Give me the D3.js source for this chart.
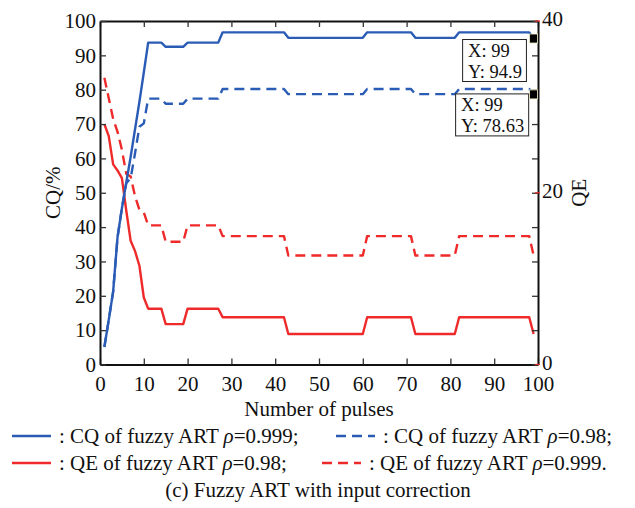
<!DOCTYPE html>
<html>
<head>
<meta charset="utf-8">
<script src="https://cdn.jsdelivr.net/npm/d3@7"></script>
<style>
  body { margin: 0; background: #fff; }
  svg text { font-family: "Liberation Serif", "Times New Roman", serif; fill: #111; }
</style>
</head>
<body>
<svg id="chart" width="635" height="508"></svg>
<script>
// pulses 1..99
var pulses = [1,2,3,4,5,6,7,8,9,10,11,12,13,14,15,16,17,18,19,20,
  21,22,23,24,25,26,27,28,29,30,31,32,33,34,35,36,37,38,39,40,
  41,42,43,44,45,46,47,48,49,50,51,52,53,54,55,56,57,58,59,60,
  61,62,63,64,65,66,67,68,69,70,71,72,73,74,75,76,77,78,79,80,
  81,82,83,84,85,86,87,88,89,90,91,92,93,94,95,96,97,98,99]

// CQ of fuzzy ART rho=0.999 (solid blue)
var cq999 = [5.1,13,21.2,37,45.5,53,60.5,68.5,76.5,85,
  93.7,93.7,93.7,93.7,92.5,92.5,92.5,92.5,92.5,93.7,
  93.7,93.7,93.7,93.7,93.7,93.7,93.7,96.7,96.7,96.7,
  96.7,96.7,96.7,96.7,96.7,96.7,96.7,96.7,96.7,96.7,
  96.7,96.7,95.1,95.1,95.1,95.1,95.1,95.1,95.1,95.1,
  95.1,95.1,95.1,95.1,95.1,95.1,95.1,95.1,95.1,95.1,
  96.7,96.7,96.7,96.7,96.7,96.7,96.7,96.7,96.7,96.7,
  96.7,95.1,95.1,95.1,95.1,95.1,95.1,95.1,95.1,95.1,
  95.1,96.7,96.7,96.7,96.7,96.7,96.7,96.7,96.7,96.7,
  96.7,96.7,96.7,96.7,96.7,96.7,96.7,96.7,94.9]

// CQ of fuzzy ART rho=0.98 (dashed blue)
var cq98 = [5.1,13,21.2,37,45.5,52.8,54.2,61.5,69.2,70.2,
  77.4,77.4,77.4,77.4,75.9,75.9,75.9,75.9,75.9,77.4,
  77.4,77.4,77.4,77.4,77.4,77.4,77.4,80.2,80.2,80.2,
  80.2,80.2,80.2,80.2,80.2,80.2,80.2,80.2,80.2,80.2,
  80.2,80.2,78.7,78.7,78.7,78.7,78.7,78.7,78.7,78.7,
  78.7,78.7,78.7,78.7,78.7,78.7,78.7,78.7,78.7,78.7,
  80.2,80.2,80.2,80.2,80.2,80.2,80.2,80.2,80.2,80.2,
  80.2,78.7,78.7,78.7,78.7,78.7,78.7,78.7,78.7,78.7,
  78.7,80.2,80.2,80.2,80.2,80.2,80.2,80.2,80.2,80.2,
  80.2,80.2,80.2,80.2,80.2,80.2,80.2,80.2,78.63]

// QE of fuzzy ART rho=0.98 (solid red)
var qe98 = [28.0,26.6,23.3,22.6,21.7,17.9,14.4,13.2,11.5,7.8,
  6.5,6.5,6.5,6.5,4.7,4.7,4.7,4.7,4.7,6.5,
  6.5,6.5,6.5,6.5,6.5,6.5,6.5,5.5,5.5,5.5,
  5.5,5.5,5.5,5.5,5.5,5.5,5.5,5.5,5.5,5.5,
  5.5,5.5,3.55,3.55,3.55,3.55,3.55,3.55,3.55,3.55,
  3.55,3.55,3.55,3.55,3.55,3.55,3.55,3.55,3.55,3.55,
  5.5,5.5,5.5,5.5,5.5,5.5,5.5,5.5,5.5,5.5,
  5.5,3.55,3.55,3.55,3.55,3.55,3.55,3.55,3.55,3.55,
  3.55,5.5,5.5,5.5,5.5,5.5,5.5,5.5,5.5,5.5,
  5.5,5.5,5.5,5.5,5.5,5.5,5.5,5.5,3.55]

// QE of fuzzy ART rho=0.999 (dashed red)
var qe999 = [33.4,31.0,28.6,27.1,25.0,22.2,21.9,19.6,18.0,17.7,
  16.2,16.2,16.2,16.2,14.3,14.3,14.3,14.3,14.3,16.2,
  16.2,16.2,16.2,16.2,16.2,16.2,16.2,14.95,14.95,14.95,
  14.95,14.95,14.95,14.95,14.95,14.95,14.95,14.95,14.95,14.95,
  14.95,14.95,12.7,12.7,12.7,12.7,12.7,12.7,12.7,12.7,
  12.7,12.7,12.7,12.7,12.7,12.7,12.7,12.7,12.7,12.7,
  14.95,14.95,14.95,14.95,14.95,14.95,14.95,14.95,14.95,14.95,
  14.95,12.7,12.7,12.7,12.7,12.7,12.7,12.7,12.7,12.7,
  12.7,14.95,14.95,14.95,14.95,14.95,14.95,14.95,14.95,14.95,
  14.95,14.95,14.95,14.95,14.95,14.95,14.95,14.95,12.7]

var xTicks = [0,10,20,30,40,50,60,70,80,90,100]
var cqTicks = [0,10,20,30,40,50,60,70,80,90,100]
var qeTicks = [0,4,8,12,16,20,24,28,32,36,40]
var qeLabels = [0,20,40]

// data tips
var tips = [
  {x: 99, y: 94.9, lines: ["X: 99", "Y: 94.9"], dx: -71, dy: 1},
  {x: 99, y: 78.63, lines: ["X: 99", "Y: 78.63"], dx: -78, dy: -0.5}
]

var legendRows = [
  {color: "#2a5cb5", dash: null, pre: ": CQ of fuzzy ART ", val: "=0.999;", x: 12, y: 443},
  {color: "#2a5cb5", dash: "10,6", pre: ": CQ of fuzzy ART ", val: "=0.98;", x: 336, y: 443},
  {color: "#ee2a2a", dash: null, pre: ": QE of fuzzy ART ", val: "=0.98;", x: 12, y: 470},
  {color: "#ee2a2a", dash: "10,6", pre: ": QE of fuzzy ART ", val: "=0.999.", x: 322, y: 470}
]

const margin = {top: 21, right: 97, bottom: 143.5, left: 100},
    width = 635 - margin.left - margin.right,
    height = 508 - margin.top - margin.bottom;

const svg = d3.select("#chart")
const g = svg.append("g").attr("transform", "translate(" + margin.left + "," + margin.top + ")")

const x = d3.scaleLinear().domain([0, 100]).range([0, width])
const yL = d3.scaleLinear().domain([0, 100]).range([height, 0])
const yR = d3.scaleLinear().domain([0, 40]).range([height, 0])

const blue = "#2a5cb5", red = "#ee2a2a"
const serif = "Liberation Serif, Times New Roman, serif"

function drawLine(vals, scale, color, dash) {
  var p = g.append("path")
    .datum(pulses.map(function (d, i) { return [d, vals[i]] }))
    .attr("fill", "none")
    .attr("stroke", color)
    .attr("stroke-width", 2.4)
    .attr("stroke-linejoin", "round")
    .attr("d", d3.line()
      .x(function (d) { return x(d[0]) })
      .y(function (d) { return scale(d[1]) }))
  if (dash) p.attr("stroke-dasharray", dash)
}

drawLine(qe999, yR, red, "10,6")
drawLine(qe98, yR, red, null)
drawLine(cq98, yL, blue, "10,6")
drawLine(cq999, yL, blue, null)

// axes
const fs = "21px"
const xAxis = g.append("g").attr("transform", "translate(0," + height + ")")
  .call(d3.axisBottom(x).tickValues(xTicks).tickSizeInner(-6).tickSizeOuter(0).tickPadding(12))
const xTop = g.append("g")
  .call(d3.axisTop(x).tickValues(xTicks).tickSizeInner(-6).tickSizeOuter(0).tickFormat(""))
const yAxisL = g.append("g")
  .call(d3.axisLeft(yL).tickValues(cqTicks).tickSizeInner(-6).tickSizeOuter(0).tickPadding(4))
const yAxisR = g.append("g").attr("transform", "translate(" + width + ",0)")
  .call(d3.axisRight(yR).tickValues(qeTicks).tickSizeInner(-6).tickSizeOuter(0).tickPadding(4)
    .tickFormat(function (d) { return qeLabels.indexOf(d) >= 0 ? d : "" }))

;[xAxis, xTop, yAxisL, yAxisR].forEach(function (a) {
  a.attr("font-family", serif)
  a.select(".domain").attr("stroke", "#111").attr("stroke-width", 2)
  a.selectAll(".tick line").attr("stroke", "#333").attr("stroke-width", 1.3)
  a.selectAll(".tick text").style("font-size", fs).attr("fill", "#111")
})
yAxisR.selectAll(".tick text").attr("dy", "0.22em")

// small red marks on labelled QE ticks
g.selectAll(".qemark").data(qeLabels).enter().append("line")
  .attr("x1", width - 3).attr("x2", width + 2)
  .attr("y1", function (d) { return yR(d) }).attr("y2", function (d) { return yR(d) })
  .attr("stroke", red).attr("stroke-width", 1.2)

// axis titles
svg.append("text").attr("transform", "translate(60," + (margin.top + height / 2) + ") rotate(-90)")
  .attr("text-anchor", "middle").style("font-size", fs).text("CQ/%")
svg.append("text").attr("transform", "translate(586," + (margin.top + height / 2) + ") rotate(-90)")
  .attr("text-anchor", "middle").style("font-size", fs).text("QE")
svg.append("text").attr("x", margin.left + width / 2).attr("y", 416)
  .attr("text-anchor", "middle").style("font-size", fs).text("Number of pulses")

// data tips
tips.forEach(function (t) {
  var mx = margin.left + x(t.x), my = margin.top + yL(t.y)
  var bx = mx + t.dx, by = my + t.dy
  var box = svg.append("rect").attr("x", bx).attr("y", by)
    .attr("fill", "#fff").attr("stroke", "#222").attr("stroke-width", 1)
  var tg = svg.append("g")
  t.lines.forEach(function (s, i) {
    tg.append("text").attr("x", bx + 5.5).attr("y", by + 17 + i * 21)
      .style("font-size", "18.5px").text(s)
  })
  var bb = tg.node().getBBox()
  box.attr("width", bb.width + 10).attr("height", 42)
  svg.append("rect").attr("x", mx - 4).attr("y", my - 4.5).attr("width", 8).attr("height", 9)
    .attr("fill", "#000").attr("stroke", "#f3f0c0").attr("stroke-width", 0.8)
})

// legend
legendRows.forEach(function (r) {
  var l = svg.append("line").attr("x1", r.x).attr("x2", r.x + 39)
    .attr("y1", r.y - 7).attr("y2", r.y - 7)
    .attr("stroke", r.color).attr("stroke-width", 2.4)
  if (r.dash) l.attr("stroke-dasharray", r.dash)
  var t = svg.append("text").attr("x", r.x + 47).attr("y", r.y).style("font-size", fs)
  t.append("tspan").text(r.pre)
  t.append("tspan").style("font-style", "italic").text("ρ")
  t.append("tspan").text(r.val)
})

svg.append("text").attr("x", 318).attr("y", 497).attr("text-anchor", "middle")
  .style("font-size", fs).text("(c) Fuzzy ART with input correction")
</script>
</body>
</html>
